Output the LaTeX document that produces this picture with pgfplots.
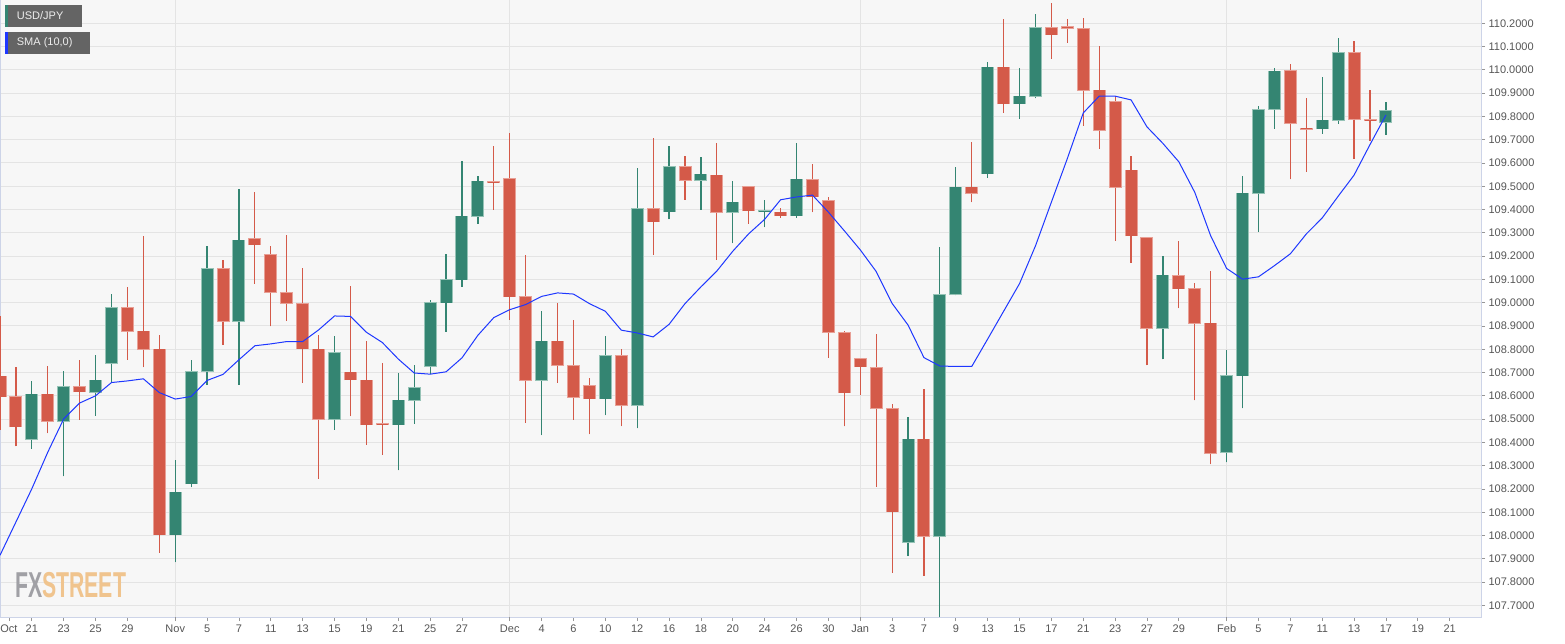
\documentclass[border=0pt]{standalone}
\usepackage{fontspec}
\setmainfont{Liberation Sans}
\usepackage{pgfplots}
\usepackage{pgfplotstable}
\pgfplotsset{compat=1.18}
\definecolor{upc}{RGB}{52,133,114}
\definecolor{dnc}{RGB}{212,90,73}
\definecolor{upo}{RGB}{150,195,182}
\definecolor{dno}{RGB}{232,160,150}
\definecolor{smac}{RGB}{30,55,255}
\definecolor{bgc}{RGB}{247,247,247}
\definecolor{gridc}{RGB}{228,228,228}
\definecolor{bordc}{RGB}{205,212,232}
\definecolor{tickc}{RGB}{150,150,150}
\definecolor{labc}{RGB}{85,85,85}
\definecolor{legc}{RGB}{100,100,100}
\definecolor{fxgray}{RGB}{160,160,165}
\definecolor{fxorange}{RGB}{240,196,142}

\pgfplotstableread{
i O H L C
2 108.413 108.664 108.373 108.607
4 108.490 108.707 108.254 108.639
6 108.616 108.776 108.514 108.666
7 108.740 109.038 108.659 108.979
11 108.003 108.325 107.886 108.185
12 108.222 108.752 108.208 108.704
13 108.706 109.244 108.647 109.145
15 108.920 109.488 108.647 109.268
21 108.500 108.858 108.454 108.786
25 108.476 108.700 108.280 108.580
26 108.581 108.734 108.481 108.635
27 108.727 109.013 108.693 108.999
28 109.000 109.211 108.876 109.099
29 109.099 109.610 109.068 109.372
30 109.372 109.544 109.339 109.521
34 108.667 108.966 108.431 108.834
38 108.588 108.859 108.517 108.771
40 108.560 109.580 108.460 109.404
42 109.391 109.674 109.358 109.583
44 109.525 109.625 109.399 109.551
46 109.388 109.524 109.256 109.432
48 109.390 109.442 109.325 109.394
50 109.374 109.687 109.365 109.530
57 107.972 108.507 107.912 108.413
59 107.996 109.241 107.650 109.035
60 109.036 109.583 109.031 109.495
62 109.554 110.033 109.537 110.011
64 109.854 110.008 109.789 109.887
65 109.887 110.239 109.878 110.181
73 108.890 109.200 108.757 109.118
77 108.358 108.795 108.314 108.687
78 108.687 109.544 108.546 109.471
79 109.471 109.846 109.304 109.829
80 109.830 110.006 109.747 109.994
83 109.747 109.968 109.726 109.783
84 109.783 110.137 109.769 110.074
87 109.776 109.861 109.721 109.824
}\upT

\pgfplotstableread{
i O H L C
0 108.683 108.942 108.454 108.597
1 108.596 108.724 108.384 108.467
3 108.607 108.729 108.440 108.490
5 108.639 108.754 108.497 108.617
8 108.979 109.066 108.755 108.878
9 108.878 109.287 108.723 108.799
10 108.799 108.862 107.925 108.003
14 109.145 109.184 108.819 108.920
16 109.274 109.477 109.081 109.248
17 109.205 109.244 108.898 109.045
18 109.043 109.291 108.922 108.998
19 108.996 109.149 108.656 108.802
20 108.800 108.862 108.244 108.500
22 108.702 109.072 108.513 108.669
23 108.667 108.836 108.390 108.476
24 108.479 108.743 108.347 108.475
31 109.520 109.671 109.399 109.516
32 109.532 109.730 108.927 109.026
33 109.025 109.206 108.485 108.667
35 108.834 109.000 108.657 108.731
36 108.730 108.927 108.498 108.593
37 108.644 108.678 108.435 108.588
39 108.771 108.799 108.470 108.560
41 109.404 109.708 109.206 109.347
43 109.583 109.631 109.442 109.525
45 109.548 109.687 109.185 109.389
47 109.498 109.501 109.339 109.394
49 109.388 109.408 109.365 109.374
51 109.529 109.594 109.389 109.454
52 109.437 109.452 108.764 108.873
53 108.870 108.878 108.469 108.614
54 108.759 108.759 108.605 108.725
55 108.721 108.864 108.209 108.546
56 108.544 108.563 107.839 108.103
58 108.413 108.628 107.827 107.996
61 109.495 109.692 109.432 109.471
63 110.011 110.219 109.815 109.854
66 110.181 110.289 110.048 110.151
67 110.186 110.219 110.117 110.178
68 110.176 110.224 109.759 109.912
69 109.912 110.101 109.662 109.740
70 109.863 109.887 109.266 109.496
71 109.568 109.631 109.171 109.287
72 109.278 109.278 108.732 108.890
74 109.115 109.266 108.977 109.059
75 109.059 109.084 108.580 108.912
76 108.912 109.135 108.307 108.353
81 109.996 110.025 109.530 109.771
82 109.749 109.878 109.563 109.745
85 110.074 110.123 109.619 109.788
86 109.786 109.914 109.696 109.782
}\dnT

\pgfplotstableread{
i v
0 107.915
1 108.058
2 108.201
3 108.358
4 108.501
5 108.569
6 108.600
7 108.657
8 108.664
9 108.673
10 108.614
11 108.586
12 108.597
13 108.666
14 108.692
15 108.755
16 108.815
17 108.823
18 108.833
19 108.833
20 108.883
21 108.943
22 108.941
23 108.873
24 108.829
25 108.758
26 108.698
27 108.693
28 108.703
29 108.763
30 108.860
31 108.936
32 108.970
33 108.992
34 109.027
35 109.042
36 109.037
37 108.996
38 108.963
39 108.882
40 108.870
41 108.853
42 108.907
43 108.996
44 109.068
45 109.136
46 109.221
47 109.296
48 109.358
49 109.442
50 109.454
51 109.462
52 109.389
53 109.309
54 109.227
55 109.134
56 108.997
57 108.904
58 108.764
59 108.728
60 108.726
61 108.726
62 108.844
63 108.963
64 109.082
65 109.244
66 109.432
67 109.619
68 109.815
69 109.887
70 109.887
71 109.871
72 109.755
73 109.684
74 109.605
75 109.474
76 109.287
77 109.147
78 109.101
79 109.111
80 109.159
81 109.210
82 109.295
83 109.364
84 109.457
85 109.548
86 109.679
87 109.806
}\smaT

\pgfplotsset{candle/.style={only marks, mark size=0pt, mark options={draw=none, fill=none}, forget plot,
  error bars/.cd, y dir=plus, y explicit, error mark=none}}

\begin{document}
\begin{tikzpicture}
\begin{axis}[
  at={(0pt,0pt)}, anchor=south west,
  scale only axis, width=1481pt, height=617pt,
  xmin=0, xmax=92.97, ymin=107.65, ymax=110.30,
  axis background/.style={fill=bgc},
  axis line style={draw=bordc, line width=1pt},
  ytick={107.7,107.8,107.9,108.0,108.1,108.2,108.3,108.4,108.5,108.6,108.7,108.8,108.9,109.0,109.1,109.2,109.3,109.4,109.5,109.6,109.7,109.8,109.9,110.0,110.1,110.2},
  yticklabel={\pgfmathprintnumber[fixed,fixed zerofill,precision=4,assume math mode=true]{\tick}},
  yticklabel pos=right, ytick pos=right, xtick pos=left,
  tick align=outside, major tick length=4pt,
  every tick/.style={draw=tickc, line width=0.8pt},
  ymajorgrids, major grid style={draw=gridc, line width=1pt},
  yticklabel style={font=\fontsize{11}{13}\selectfont, text=labc},
  xticklabel style={font=\fontsize{11}{13}\selectfont, text=labc},
  xtick={0.56,2,4,6,8,11,13,15,17,19,21,23,25,27,29,32,34,36,38,40,42,44,46,48,50,52,54,56,58,60,62,64,66,68,70,72,74,77,79,81,83,85,87,89,91},
  xticklabels={Oct,21,23,25,29,Nov,5,7,11,13,15,19,21,25,27,Dec,4,6,10,12,16,18,20,24,26,30,Jan,3,7,9,13,15,17,21,23,27,29,Feb,5,7,11,13,17,19,21},
  extra x ticks={11,32,54,77},
  extra x tick labels={},
  extra x tick style={grid=major, major grid style={draw=gridc, line width=1pt}},
]
% wicks
\addplot[candle, error bar style={draw=upc, line width=1.2pt}]
  table[x=i, y=L, y error plus expr=\thisrow{H}-\thisrow{L}] {\upT};
\addplot[candle, error bar style={draw=dnc, line width=1.2pt}]
  table[x=i, y=L, y error plus expr=\thisrow{H}-\thisrow{L}] {\dnT};
% body outlines
\addplot[candle, error bar style={draw=upo, line width=13pt}]
  table[x=i, y expr=\thisrow{O}-0.0022, y error plus expr=\thisrow{C}-\thisrow{O}+0.0044] {\upT};
\addplot[candle, error bar style={draw=dno, line width=13pt}]
  table[x=i, y expr=\thisrow{C}-0.0022, y error plus expr=\thisrow{O}-\thisrow{C}+0.0044] {\dnT};
% bodies
\addplot[candle, error bar style={draw=upc, line width=11pt}]
  table[x=i, y=O, y error plus expr=\thisrow{C}-\thisrow{O}] {\upT};
\addplot[candle, error bar style={draw=dnc, line width=11pt}]
  table[x=i, y=C, y error plus expr=\thisrow{O}-\thisrow{C}] {\dnT};
% SMA
\addplot[smac, line width=1pt, mark=none] table[x=i, y=v] {\smaT};
\end{axis}
% legend boxes
\fill[legc] (5pt,590pt) rectangle (82pt,612pt);
\fill[upc] (5pt,590pt) rectangle (7.7pt,612pt);
\node[anchor=west, text=white!93!black, font=\fontsize{11}{13}\selectfont, inner sep=0pt] at (16.7pt,601pt) {USD/JPY};
\fill[legc] (5pt,563pt) rectangle (90pt,585pt);
\fill[smac] (5pt,563pt) rectangle (7.7pt,585pt);
\node[anchor=west, text=white!93!black, font=\fontsize{11}{13}\selectfont, inner sep=0pt] at (16.7pt,574pt) {SMA (10,0)};
% watermark
\node[anchor=base west, inner sep=0pt, font=\fontsize{36}{36}\selectfont\bfseries, xscale=0.59] at (15pt,20pt) {\textcolor{fxgray}{FX}\textcolor{fxorange}{STREET}};
\pgfresetboundingbox
\path (0pt,-26pt) rectangle (1565pt,617pt);
\end{tikzpicture}
\end{document}
